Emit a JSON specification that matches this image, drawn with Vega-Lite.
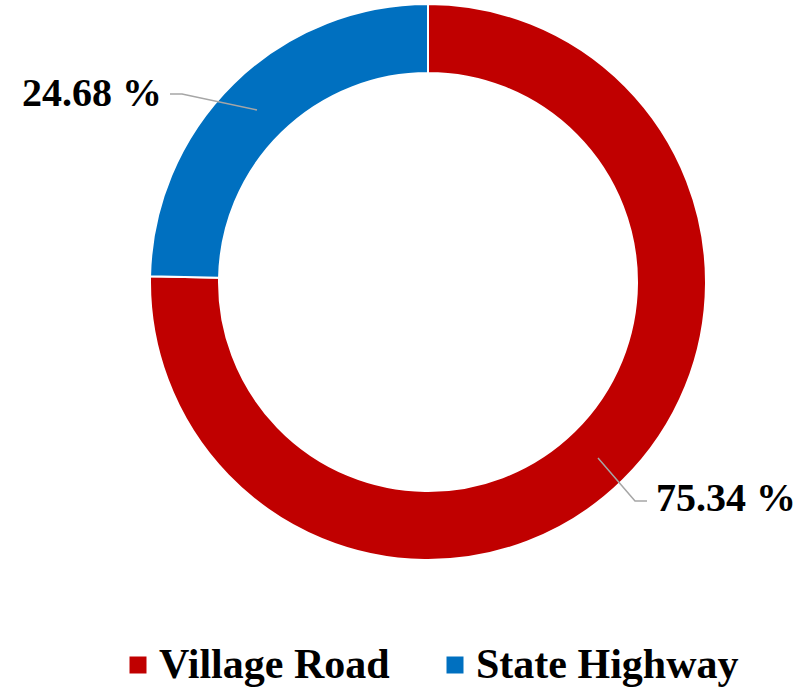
{
  "$schema": "https://vega.github.io/schema/vega-lite/v6.json",
  "autosize": {"type": "none"},
  "width": 556,
  "height": 556,
  "padding": {"left": 150, "top": 4, "right": 104, "bottom": 130},
  "background": "white",
  "config": {"view": {"stroke": null}},
  "datasets": {
    "shares": [
      {"category": "Village Road", "value": 75.34, "order": 1},
      {"category": "State Highway", "value": 24.68, "order": 2}
    ],
    "leaders": [
      {"id": "sh", "px": -258, "py": 188, "seq": 1},
      {"id": "sh", "px": -246, "py": 188, "seq": 2},
      {"id": "sh", "px": -171, "py": 172, "seq": 3},
      {"id": "vr", "px": 170, "py": -176, "seq": 1},
      {"id": "vr", "px": 207, "py": -219, "seq": 2},
      {"id": "vr", "px": 219, "py": -219, "seq": 3}
    ],
    "labels": [
      {"label": "24.68 %", "lx": -266, "ly": 188, "side": "left"},
      {"label": "75.34 %", "lx": 228, "ly": -217, "side": "right"}
    ]
  },
  "layer": [
    {
      "data": {"name": "shares"},
      "mark": {"type": "arc", "outerRadius": 278, "innerRadius": 209, "stroke": "white", "strokeWidth": 2},
      "encoding": {
        "theta": {"field": "value", "type": "quantitative", "stack": true},
        "order": {"field": "order", "type": "quantitative"},
        "color": {
          "field": "category",
          "type": "nominal",
          "scale": {"domain": ["Village Road", "State Highway"], "range": ["#C00000", "#0070C0"]},
          "legend": {
            "title": null,
            "orient": "none",
            "legendX": -33,
            "legendY": 640,
            "direction": "horizontal",
            "symbolType": "square",
            "symbolSize": 289,
            "symbolStrokeWidth": 0,
            "labelFont": "Liberation Serif",
            "labelFontWeight": "bold",
            "labelFontSize": 42,
            "labelColor": "black",
            "labelOffset": 0,
            "labelLimit": 400,
            "columnPadding": 44
          }
        }
      }
    },
    {
      "data": {"name": "leaders"},
      "mark": {"type": "line", "color": "#A6A6A6", "strokeWidth": 1.5},
      "encoding": {
        "x": {"field": "px", "type": "quantitative", "scale": {"domain": [-278, 278], "nice": false, "zero": false}, "axis": null},
        "y": {"field": "py", "type": "quantitative", "scale": {"domain": [-278, 278], "nice": false, "zero": false}, "axis": null},
        "detail": {"field": "id", "type": "nominal"},
        "order": {"field": "seq", "type": "quantitative"}
      }
    },
    {
      "data": {"name": "labels"},
      "transform": [{"filter": "datum.side === 'left'"}],
      "mark": {"type": "text", "align": "right", "baseline": "middle", "font": "Liberation Serif", "fontWeight": "bold", "fontSize": 40, "color": "black"},
      "encoding": {
        "x": {"field": "lx", "type": "quantitative", "scale": {"domain": [-278, 278], "nice": false, "zero": false}, "axis": null},
        "y": {"field": "ly", "type": "quantitative", "scale": {"domain": [-278, 278], "nice": false, "zero": false}, "axis": null},
        "text": {"field": "label", "type": "nominal"}
      }
    },
    {
      "data": {"name": "labels"},
      "transform": [{"filter": "datum.side === 'right'"}],
      "mark": {"type": "text", "align": "left", "baseline": "middle", "font": "Liberation Serif", "fontWeight": "bold", "fontSize": 40, "color": "black"},
      "encoding": {
        "x": {"field": "lx", "type": "quantitative", "scale": {"domain": [-278, 278], "nice": false, "zero": false}, "axis": null},
        "y": {"field": "ly", "type": "quantitative", "scale": {"domain": [-278, 278], "nice": false, "zero": false}, "axis": null},
        "text": {"field": "label", "type": "nominal"}
      }
    }
  ]
}
